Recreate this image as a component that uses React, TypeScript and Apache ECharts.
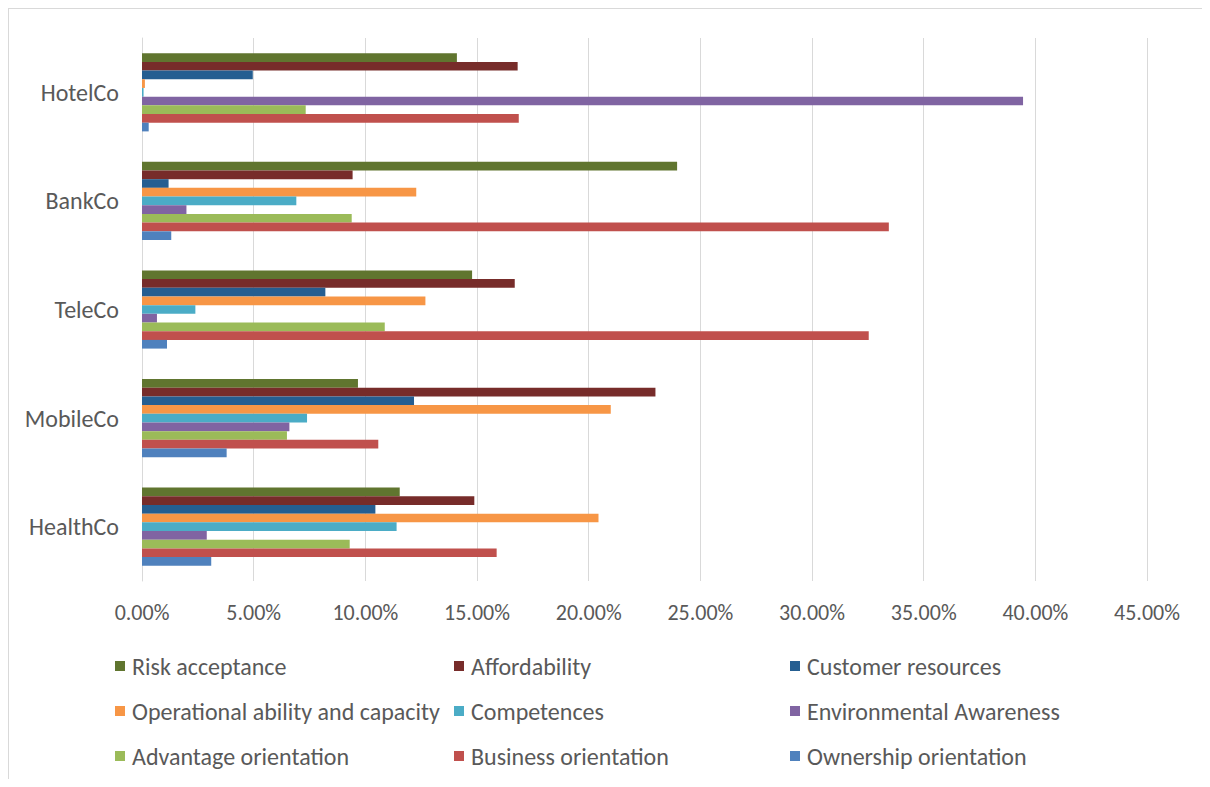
import React, { useEffect, useRef } from "react";
import * as echarts from "echarts";

const categories = ["HealthCo", "MobileCo", "TeleCo", "BankCo", "HotelCo"];

const seriesNames = [
  "Risk acceptance",
  "Affordability",
  "Customer resources",
  "Operational ability and capacity",
  "Competences",
  "Environmental Awareness",
  "Advantage orientation",
  "Business orientation",
  "Ownership orientation",
];

// values per series, in order of categories (HealthCo, MobileCo, TeleCo, BankCo, HotelCo)
const riskAcceptance = [0.1154, 0.0967, 0.1478, 0.2396, 0.141];
const affordability = [0.1488, 0.2299, 0.1669, 0.0943, 0.1682];
const customerResources = [0.1045, 0.1218, 0.0821, 0.0119, 0.0496];
const operationalAbility = [0.2044, 0.2099, 0.1269, 0.1228, 0.0013];
const competences = [0.114, 0.0739, 0.0239, 0.0691, 0.0007];
const environmentalAwareness = [0.029, 0.066, 0.0067, 0.0199, 0.3945];
const advantageOrientation = [0.093, 0.0649, 0.1087, 0.0939, 0.0733];
const businessOrientation = [0.1588, 0.1058, 0.3254, 0.3344, 0.1687];
const ownershipOrientation = [0.031, 0.0379, 0.0112, 0.0131, 0.003];

const seriesValues = [
  riskAcceptance,
  affordability,
  customerResources,
  operationalAbility,
  competences,
  environmentalAwareness,
  advantageOrientation,
  businessOrientation,
  ownershipOrientation,
];

const colors = [
  "#60752F",
  "#772C2A",
  "#255E91",
  "#F79646",
  "#4BACC6",
  "#8064A2",
  "#9BBB59",
  "#C0504D",
  "#4F81BD",
];

const xTicks = [0, 0.05, 0.1, 0.15, 0.2, 0.25, 0.3, 0.35, 0.4, 0.45];

const legendColumns = [
  ["Risk acceptance", "Operational ability and capacity", "Advantage orientation"],
  ["Affordability", "Competences", "Business orientation"],
  ["Customer resources", "Environmental Awareness", "Ownership orientation"],
];

const FONT = "Carlito, Calibri, 'Liberation Sans', Arial, sans-serif";
const TEXT_COLOR = "#595959";

export default function App() {
  const ref = useRef<HTMLDivElement>(null);

  useEffect(() => {
    if (!ref.current) return;
    const chart = echarts.init(ref.current, undefined, { renderer: "svg" });
    const legendLefts = [106, 445, 781];
    chart.setOption({
      animation: false,
      textStyle: { fontFamily: FONT },
      color: colors,
      grid: { left: 133, right: 63, top: 29, bottom: 198, containLabel: false },
      legend: legendColumns.map((col, i) => ({
        data: col,
        orient: "vertical",
        left: legendLefts[i],
        top: 643,
        padding: 0,
        height: 125,
        itemWidth: 10,
        itemHeight: 10,
        itemGap: 17,
        icon: "rect",
        selectedMode: false,
        textStyle: {
          fontFamily: FONT,
          fontSize: 24,
          color: TEXT_COLOR,
          lineHeight: 28,
          padding: [0, 0, 0, 2],
        },
      })),
      xAxis: {
        type: "value",
        min: xTicks[0],
        max: xTicks[xTicks.length - 1],
        interval: 0.05,
        axisLine: { show: false },
        axisTick: { show: false },
        splitLine: { show: true, lineStyle: { color: "#d9d9d9", width: 1 } },
        axisLabel: {
          color: TEXT_COLOR,
          fontSize: 22,
          fontFamily: FONT,
          margin: 20,
          formatter: (v: number) => (v * 100).toFixed(2) + "%",
        },
      },
      yAxis: {
        type: "category",
        data: categories,
        axisLine: { show: true, lineStyle: { color: "#d9d9d9" } },
        axisTick: { show: false },
        axisLabel: {
          color: TEXT_COLOR,
          fontSize: 24,
          fontFamily: FONT,
          margin: 23,
        },
      },
      series: seriesNames.map((name, i) => ({
        name,
        type: "bar",
        data: seriesValues[i],
        barGap: "0%",
        barCategoryGap: "28%",
        itemStyle: { color: colors[i] },
      })),
    });
    return () => chart.dispose();
  }, []);

  return (
    <div
      ref={ref}
      style={{
        width: 1202,
        height: 771,
        boxSizing: "border-box",
        borderTop: "1px solid #d9d9d9",
        borderLeft: "1px solid #d9d9d9",
        background: "#fff",
      }}
    />
  );
}
